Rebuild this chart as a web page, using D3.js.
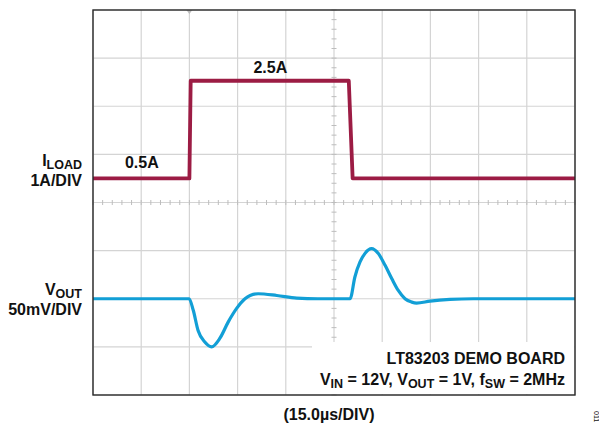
<!DOCTYPE html>
<html>
<head>
<meta charset="utf-8">
<script src="https://cdn.jsdelivr.net/npm/d3@7"></script>
<style>
  html, body { margin: 0; padding: 0; background: #fff; }
  svg { display: block; }
  text { font-family: "Liberation Sans", Arial, sans-serif; font-weight: bold; fill: #111; }
</style>
</head>
<body>
<svg id="chart" width="599" height="428"></svg>
<script>
// Load current step (time in µs, current in A)
const loadTimeUs = [0, 30.0, 30.4, 79.6, 80.8, 150];
const loadCurrentA = [0.5, 0.5, 2.53, 2.53, 0.5, 0.5];

// Output voltage deviation (time in µs, deviation in mV)
const voutTimeUs = [0, 29.9, 31.2, 32.7, 34.8, 36.9, 39.5, 42.1, 44.7, 47.3, 48.9, 51.4, 57.2, 63.4, 70,
  80.0, 81.5, 83.1, 84.6, 86.7, 88.8, 90.9, 93.0, 95.0, 97.1, 99.2, 100.7, 104.9, 111.1, 118.3, 150];
const voutDevMv = [0, 0, -12, -33, -45, -50, -41, -24, -10, 0, 3.4, 5.2, 3.4, 0.6, 0,
  0, 22.6, 38.2, 46.9, 52.0, 46.9, 34.7, 20.8, 8.6, 0, -3.5, -4.5, -2.5, -0.7, 0, 0];

// Scope settings
const timeDivs = d3.range(0, 151, 15);          // 15µs/DIV, 10 divisions
const currentDivs = d3.range(-4, 5, 1);         // 1A/DIV, 8 divisions

const FRAME = { left: 93, right: 575, top: 10, bottom: 395 };
const COLORS = { grid: '#d4d4d4', tick: '#bdbdbd', frame: '#2a2a2a', iload: '#9c1c44', vout: '#129fd6' };
const FONT_SIZE = 16;
const SUB_SIZE = 12.5;

const svg = d3.select('#chart');

const x = d3.scaleLinear().domain([0, 150]).range([FRAME.left, FRAME.right]);
const yI = d3.scaleLinear().domain([-4, 4]).range([FRAME.bottom, FRAME.top]);
const yV = d3.scaleLinear().domain([-100, 300]).range([FRAME.bottom, FRAME.top]);

// grid
const grid = svg.append('g').attr('class', 'grid');
grid.selectAll('line.v')
  .data(timeDivs)
  .join('line')
  .attr('class', 'v')
  .attr('x1', d => x(d)).attr('x2', d => x(d))
  .attr('y1', FRAME.top).attr('y2', FRAME.bottom)
  .attr('stroke', COLORS.grid).attr('stroke-width', 1.2);
grid.selectAll('line.h')
  .data(currentDivs)
  .join('line')
  .attr('class', 'h')
  .attr('x1', FRAME.left).attr('x2', FRAME.right)
  .attr('y1', d => yI(d)).attr('y2', d => yI(d))
  .attr('stroke', COLORS.grid).attr('stroke-width', 1.2);

// minor ticks on the centre lines (5 per division)
const xMinor = d3.range(0, 150.01, 3);
const yMinor = d3.range(-4, 4.001, 0.2);
grid.selectAll('line.xm')
  .data(xMinor)
  .join('line')
  .attr('class', 'xm')
  .attr('x1', d => x(d)).attr('x2', d => x(d))
  .attr('y1', yI(0) - 2.5).attr('y2', yI(0) + 2.5)
  .attr('stroke', COLORS.tick).attr('stroke-width', 1);
grid.selectAll('line.ym')
  .data(yMinor)
  .join('line')
  .attr('class', 'ym')
  .attr('x1', x(75) - 2.5).attr('x2', x(75) + 2.5)
  .attr('y1', d => yI(d)).attr('y2', d => yI(d))
  .attr('stroke', COLORS.tick).attr('stroke-width', 1);

// trigger marker
svg.append('path')
  .attr('d', `M${x(30) - 3},${FRAME.top} L${x(30) + 3},${FRAME.top} L${x(30)},${FRAME.top + 4} Z`)
  .attr('fill', '#bbb');

// traces
const loadLine = d3.line()
  .x((d, i) => x(loadTimeUs[i]))
  .y(d => yI(d));
svg.append('path')
  .attr('d', loadLine(loadCurrentA))
  .attr('fill', 'none')
  .attr('stroke', COLORS.iload)
  .attr('stroke-width', 3.8)
  .attr('stroke-linejoin', 'round');

const voutLine = d3.line()
  .x((d, i) => x(voutTimeUs[i]))
  .y(d => yV(d))
  .curve(d3.curveMonotoneX);
svg.append('path')
  .attr('d', voutLine(voutDevMv))
  .attr('fill', 'none')
  .attr('stroke', COLORS.vout)
  .attr('stroke-width', 3.2)
  .attr('stroke-linejoin', 'round');

// note box
svg.append('rect')
  .attr('x', 312).attr('y', 342)
  .attr('width', FRAME.right - 313).attr('height', FRAME.bottom - 343)
  .attr('fill', '#fff');

// frame
svg.append('rect')
  .attr('x', FRAME.left).attr('y', FRAME.top)
  .attr('width', FRAME.right - FRAME.left).attr('height', FRAME.bottom - FRAME.top)
  .attr('fill', 'none')
  .attr('stroke', COLORS.frame)
  .attr('stroke-width', 1.4);

// labels
function label(xp, yp, anchor, parts) {
  const t = svg.append('text')
    .attr('x', xp).attr('y', yp)
    .attr('text-anchor', anchor)
    .attr('font-size', FONT_SIZE);
  parts.forEach(p => {
    const ts = t.append('tspan').text(p[0]);
    if (p[1] === 'sub') ts.attr('font-size', SUB_SIZE).attr('dy', 3);
    else if (p[1] === 'up') ts.attr('dy', -3);
  });
  return t;
}

label(82, 166, 'end', [['I'], ['LOAD', 'sub']]);
label(82, 185.5, 'end', [['1A/DIV']]);
label(82, 294.5, 'end', [['V'], ['OUT', 'sub']]);
label(82, 314.5, 'end', [['50mV/DIV']]);

label(x(15.2), 168, 'middle', [['0.5A']]);
label(x(55.2), 72.5, 'middle', [['2.5A']]);

label(565, 364, 'end', [['LT83203 DEMO BOARD']]);
label(565, 385, 'end', [['V'], ['IN', 'sub'], [' = 12V, V', 'up'], ['OUT', 'sub'], [' = 1V, f', 'up'], ['SW', 'sub'], [' = 2MHz', 'up']]);

label(329, 420, 'middle', [['(15.0µs/DIV)']]);

svg.append('text')
  .attr('transform', 'translate(594,411) rotate(90)')
  .attr('font-size', 7)
  .style('font-weight', 'normal')
  .attr('fill', '#444')
  .text('011');
</script>
</body>
</html>
